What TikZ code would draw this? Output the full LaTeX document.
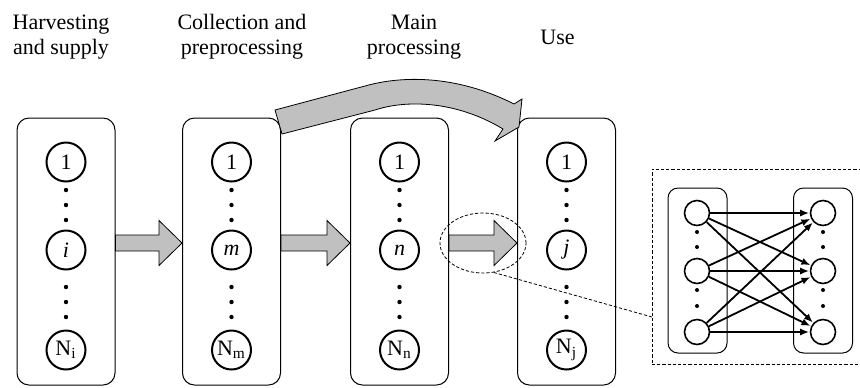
\documentclass[tikz,border=0pt]{standalone}
\usepackage{fontspec}
\setmainfont{Liberation Serif}
\usetikzlibrary{shapes.geometric,arrows.meta,calc}

\definecolor{flowgray}{RGB}{192,192,192}

\begin{document}
\begin{tikzpicture}[x=0.5pt,y=-0.5pt,
  stage/.style={draw, rounded corners=6pt, line width=0.5pt,
    minimum width=49pt, minimum height=133.5pt, inner sep=0pt},
  unit/.style={circle, draw, line width=1pt, minimum size=19.5pt,
    inner sep=0pt, font=\fontsize{11}{12}\selectfont},
  heading/.style={align=center, font=\fontsize{11}{12.7}\selectfont},
  flow/.style={draw, fill=flowgray, line width=0.4pt, line join=miter},
  zoomline/.style={dashed, dash pattern=on 1.6pt off 1pt, line width=0.4pt},
  cell/.style={draw, rounded corners=5pt, line width=0.5pt,
    minimum width=29.5pt, minimum height=82.5pt, inner sep=0pt},
  neuron/.style={circle, draw, line width=0.8pt, minimum size=12.5pt, inner sep=0pt},
  link/.style={line width=0.9pt, -{Latex[length=4.5pt,width=3.6pt]}, shorten >=0.3pt}
]
\useasboundingbox (0,0) rectangle (860,387);
\clip (0,0) rectangle (860,387);

% stage headings
\node[heading] (t1) at (61,37) {Harvesting\\and supply};
\node[heading] (t2) at (242,37) {Collection and\\preprocessing};
\node[heading] (t3) at (414,37) {Main\\processing};
\node[heading] (t4) at (557.5,37) {Use};

% stage boxes with their units
\foreach \k/\cx/\mid/\last in {1/66/\textit{i}/i, 2/231.5/\textit{m}/m, 3/399.5/\textit{n}/n, 4/566.5/\textit{j}/j}{
  \node[stage] (b\k) at (\cx,251.5) {};
  \node[unit] (b\k a) at (\cx,162) {1};
  \node[unit] (b\k b) at (\cx,250) {\mid};
  \node[unit] (b\k c) at (\cx,350) {N\textsubscript{\last}};
  \foreach \dy in {190,205,220,287,302,317}
    \fill (\cx,\dy) circle (1.1pt);
}

% block arrows between neighbouring stages
\coordinate (axis) at (0,243);
\foreach \p/\q in {b1/b2, b2/b3, b3/b4}{
  \coordinate (s) at (\p.east |- axis);
  \coordinate (t) at (\q.west |- axis);
  \draw[flow] ($(s)+(0,-8)$) -- ($(t)+(-23,-8)$) -- ($(t)+(-23,-22.5)$) -- (t)
    -- ($(t)+(-23,22.5)$) -- ($(t)+(-23,8)$) -- ($(s)+(0,8)$) -- cycle;
}

% bypass arrow from collection straight to use
\draw[flow] (275,110) -- (365,86) .. controls (400,76) and (455,74) .. (514,104)
  -- (522,99) -- (519,127) -- (495,141) -- (503,129)
  .. controls (455,100) and (405,100) .. (375,110) -- (282,134) -- cycle;

% magnified detail of one link
\node[draw, ellipse, zoomline, minimum width=43pt, minimum height=30pt, inner sep=0pt]
  (ring) at (483,243) {};
\node[draw, zoomline, minimum width=109pt, minimum height=97.5pt, inner sep=0pt]
  (detail) at (761,266.5) {};
\coordinate (detailin) at (652,317);
\draw[zoomline] (ring.-70) -- (detailin);

\node[cell] (lc) at (697.5,270.5) {};
\node[cell] (rc) at (823,270.5) {};
\foreach \n/\y in {1/213, 2/271, 3/332}{
  \node[neuron] (l\n) at (697,\y) {};
  \node[neuron] (r\n) at (823,\y) {};
}
\foreach \dy in {232,247,290,306}{
  \fill (697,\dy) circle (1pt);
  \fill (823,\dy) circle (1pt);
}
\foreach \a in {1,2,3}
  \foreach \b in {1,2,3}
    \draw[link] (l\a) -- (r\b);
\end{tikzpicture}
\end{document}
